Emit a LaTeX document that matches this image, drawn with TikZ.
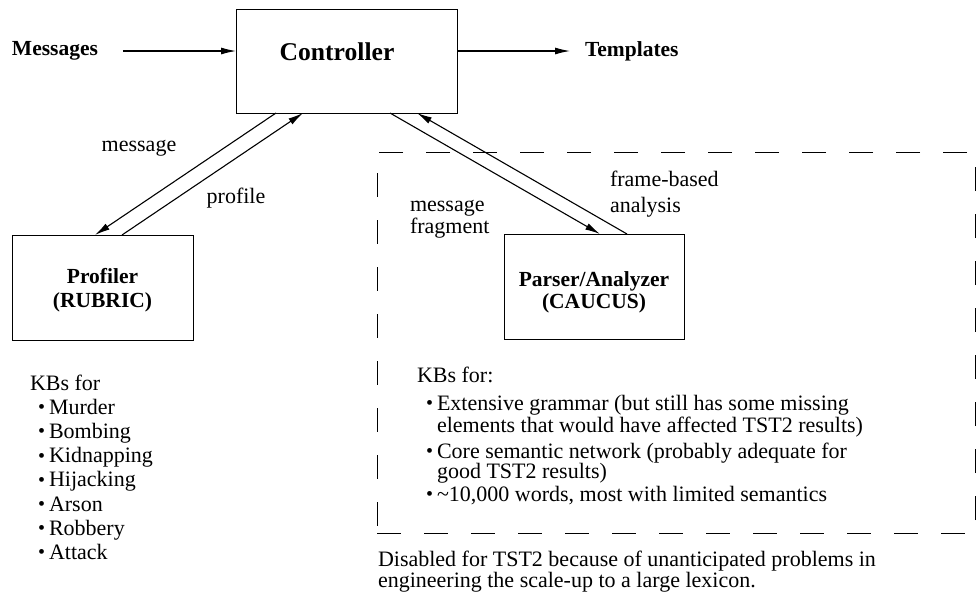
\documentclass[tikz,border=0pt]{standalone}
\usepackage{fontspec}
\setmainfont{Liberation Serif}
\usetikzlibrary{arrows.meta}
\newcommand{\kbdot}{\makebox[11pt][l]{\raisebox{0.8pt}{\fontsize{20}{20}\selectfont\textbullet}}}
\begin{document}
\begin{tikzpicture}[x=1pt,y=-1pt,
  every node/.style={inner sep=0pt, outer sep=0pt},
  txt/.style={font=\fontsize{22}{20}\selectfont},
  lbl/.style={font=\fontsize{21.5}{22}\selectfont\bfseries},
  boxnode/.style={draw, line width=1pt},
  arr/.style={line width=1.1pt, -{Latex[length=15pt,width=7pt]}},
  grpbox/.style={draw, line width=1pt, dash pattern=on 24pt off 23pt},
]
\useasboundingbox (0,0) rectangle (976,592);

% top row
\node[lbl, anchor=west] (msgs) at (12,51) {Messages};
\node[boxnode, minimum width=221pt, minimum height=104pt] (ctrl) at (346.5,61) {};
\node[font=\fontsize{25.6}{28}\selectfont\bfseries] (ctrltxt) at (337,52) {Controller};
\node[lbl, anchor=west] (tmpl) at (585,51) {Templates};
\draw[arr] ([xshift=25pt]msgs.east) -- (ctrl.west |- msgs.east);
\draw[arr] (ctrl.east |- tmpl.west) -- ([xshift=-15pt]tmpl.west);

% dashed group
\node[grpbox, minimum width=598pt, minimum height=381pt] (grp) at (676,342.5) {};

% boxes
\node[boxnode, minimum width=181pt, minimum height=105pt] (prof) at (102.5,287.5) {};
\node[lbl, align=center] (proftxt) at (102.5,290) {Profiler\\[2pt](RUBRIC)};
\node[boxnode, minimum width=180pt, minimum height=105pt] (pars) at (594,286.5) {};
\node[lbl, align=center] (parstxt) at (594,292) {Parser/Analyzer\\(CAUCUS)};

% connectors
\draw[arr] ([xshift=40pt]ctrl.south west) -- ([xshift=83pt]prof.north west);
\draw[arr] ([xshift=110pt]prof.north west) -- ([xshift=67pt]ctrl.south west);
\draw[arr] ([xshift=154pt]ctrl.south west) -- ([xshift=96pt]pars.north west);
\draw[arr] ([xshift=123pt]pars.north west) -- ([xshift=181pt]ctrl.south west);

% connector labels
\node[txt] (lmsg) at (139,148) {message};
\node[txt] (lprof) at (236,198) {profile};
\node[txt, anchor=base west] (lfrag1) at (410,211) {message};
\node[txt, anchor=base west] (lfrag2) at (410,233) {fragment};
\node[txt, anchor=base west] (lfb1) at (610,186) {frame-based};
\node[txt, anchor=base west] (lfb2) at (610,212) {analysis};

% left list
\node[txt, anchor=base west] (kbl0) at (30,390.5) {KBs for};
\foreach \t [count=\i] in {Murder,Bombing,Kidnapping,Hijacking,Arson,Robbery,Attack}
  \node[txt, anchor=base west] (kbl\i) at (38,{390.5+24.1*\i}) {\kbdot\t};

% right list
\node[txt, anchor=base west] (kbr0) at (417,382.5) {KBs for:};
\node[txt, anchor=base west] (kbr1) at (426,410.5) {\kbdot Extensive grammar (but still has some missing};
\node[txt, anchor=base west] (kbr2) at (437,432) {elements that would have affected TST2 results)};
\node[txt, anchor=base west] (kbr3) at (426,458) {\kbdot Core semantic network (probably adequate for};
\node[txt, anchor=base west] (kbr4) at (437,478) {good TST2 results)};
\node[txt, anchor=base west] (kbr5) at (426,501.5) {\kbdot \textasciitilde10,000 words, most with limited semantics};

% note
\node[txt, anchor=base west] (note1) at (378,566) {Disabled for TST2 because of unanticipated problems in};
\node[txt, anchor=base west] (note2) at (378,587) {engineering the scale-up to a large lexicon.};
\end{tikzpicture}
\end{document}
